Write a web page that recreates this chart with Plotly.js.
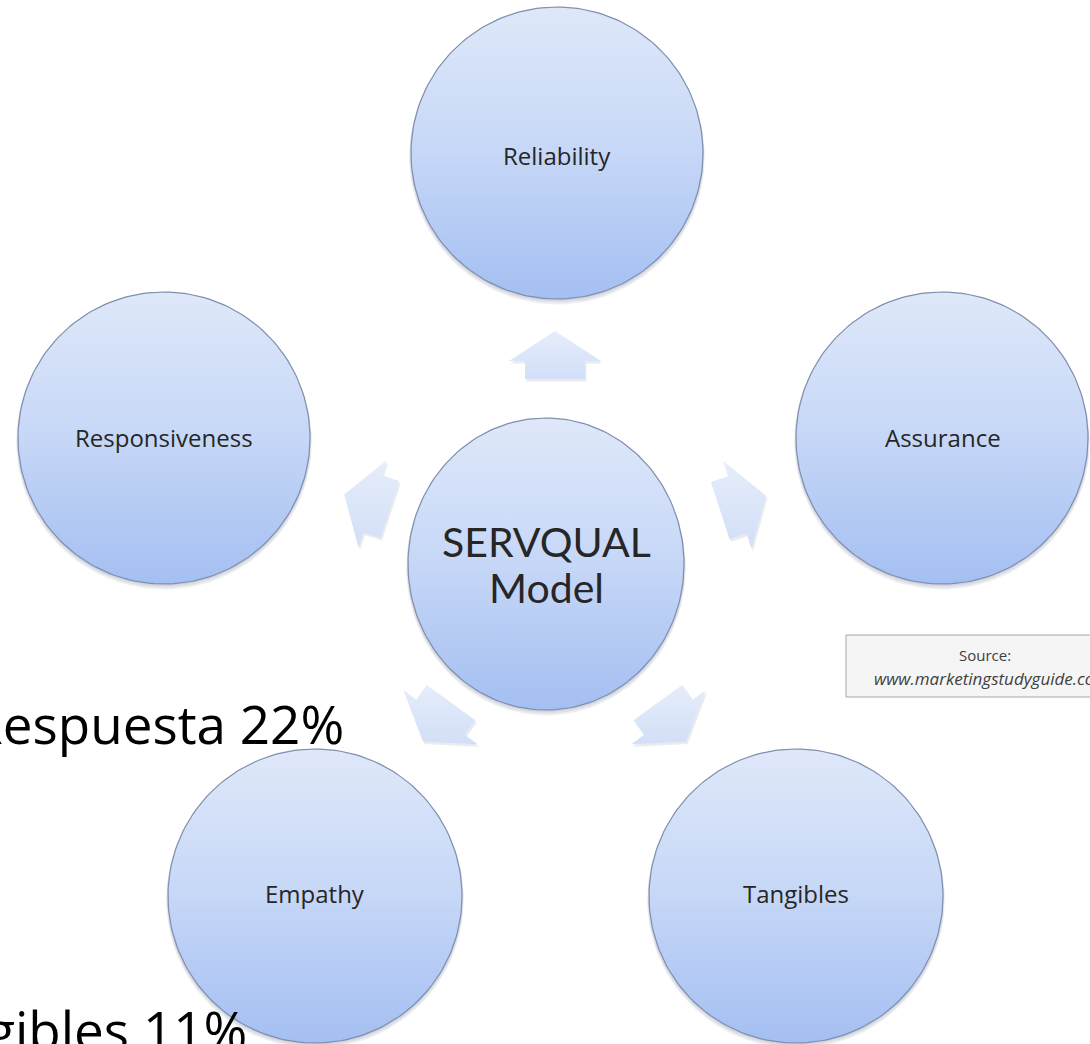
<!DOCTYPE html>
<html>
<head>
<meta charset="utf-8">
<script src="https://cdn.plot.ly/plotly-3.0.1.min.js"></script>
<style>
  html, body { margin: 0; padding: 0; background: #ffffff; }
  #chart { width: 1090px; height: 1044px; }
</style>
</head>
<body>
<div id="chart"></div>
<script>
// ---- content (text) ----
const centerLabel = ['SERVQUAL', 'Model'];
const nodeLabels = ['Reliability', 'Assurance', 'Tangibles', 'Empathy', 'Responsiveness'];
const sideLabels = ['Respuesta 22%', 'Tangibles 11%'];
const sourceLines = ['Source:', 'www.marketingstudyguide.com'];

// ---- layout geometry (pixels) ----
const W = 1090, H = 1044;
const centerNode = { cx: 546, cy: 564, rx: 138, ry: 146 };
const nodePos = [
  { cx: 557, cy: 153, r: 146 },   // Reliability
  { cx: 942, cy: 438, r: 146 },   // Assurance
  { cx: 796, cy: 896, r: 147 },   // Tangibles
  { cx: 315, cy: 896, r: 147 },   // Empathy
  { cx: 164, cy: 438, r: 146 }    // Responsiveness
];
const labelPos = [
  { x: 557, y: 155 }, { x: 943, y: 437 }, { x: 796, y: 893 }, { x: 315, y: 893 }, { x: 164, y: 437 }
];
const arrowPos = [
  { cx: 555, cy: 355, ang: 0 },
  { cx: 743, cy: 503, ang: 72 },
  { cx: 672, cy: 722, ang: 144 },
  { cx: 437, cy: 722, ang: 216 },
  { cx: 367, cy: 502, ang: 288 }
];
const arrowSize = { w: 92, l: 48, head: 30, shaft: 60 };

const circTop = '#dfe8f9', circMid = '#c6d7f7', circBot = '#a4bff2';
const circLine = '#7f8fae';
const arrowTop = '#e6edfb', arrowBot = '#d2dff7';
const fontLabel = '"Open Sans", "Noto Sans", sans-serif';
const fontCenter = 'Lato, "Noto Sans", sans-serif';

function ellipsePts(cx, cy, rx, ry, n) {
  const xs = [], ys = [];
  for (let i = 0; i <= n; i++) {
    const t = 2 * Math.PI * i / n;
    xs.push(cx + rx * Math.cos(t));
    ys.push(cy + ry * Math.sin(t));
  }
  return { xs, ys };
}

function arrowPts(cx, cy, angDeg, s) {
  const L = s.l, Wd = s.w, Hh = s.head, S = s.shaft;
  const local = [
    [0, -L / 2], [Wd / 2, -L / 2 + Hh], [S / 2, -L / 2 + Hh], [S / 2, L / 2],
    [-S / 2, L / 2], [-S / 2, -L / 2 + Hh], [-Wd / 2, -L / 2 + Hh], [0, -L / 2]
  ];
  const a = angDeg * Math.PI / 180, c = Math.cos(a), sn = Math.sin(a);
  const xs = [], ys = [];
  local.forEach(([x, y]) => { xs.push(cx + x * c - y * sn); ys.push(cy + x * sn + y * c); });
  return { xs, ys };
}

const traces = [];

// arrows (shadow + body)
arrowPos.forEach(p => {
  const sh = arrowPts(p.cx + 1.5, p.cy + 2.5, p.ang, arrowSize);
  traces.push({ x: sh.xs, y: sh.ys, mode: 'lines', fill: 'toself', line: { width: 0, color: 'rgba(0,0,0,0)' },
    fillcolor: 'rgba(120,130,150,0.16)', hoverinfo: 'skip', showlegend: false });
  const pts = arrowPts(p.cx, p.cy, p.ang, arrowSize);
  const ymin = Math.min(...pts.ys), ymax = Math.max(...pts.ys);
  traces.push({ x: pts.xs, y: pts.ys, mode: 'lines', fill: 'toself', line: { width: 0, color: 'rgba(0,0,0,0)' },
    fillcolor: arrowTop,
    fillgradient: { type: 'vertical', start: ymin, stop: ymax, colorscale: [[0, arrowTop], [1, arrowBot]] },
    hoverinfo: 'skip', showlegend: false });
});

function addCircle(cx, cy, rx, ry) {
  for (let k = 3; k >= 1; k--) {
    const sh = ellipsePts(cx, cy + k * 1.2, rx + k * 0.6, ry + k * 0.6, 120);
    traces.push({ x: sh.xs, y: sh.ys, mode: 'lines', fill: 'toself', line: { width: 0, color: 'rgba(0,0,0,0)' },
      fillcolor: 'rgba(90,100,130,0.10)', hoverinfo: 'skip', showlegend: false });
  }
  const pts = ellipsePts(cx, cy, rx, ry, 180);
  traces.push({ x: pts.xs, y: pts.ys, mode: 'lines', fill: 'toself',
    line: { width: 1.2, color: circLine },
    fillcolor: circMid,
    fillgradient: { type: 'vertical', start: cy - ry, stop: cy + ry,
      colorscale: [[0, circTop], [0.5, circMid], [1, circBot]] },
    hoverinfo: 'skip', showlegend: false });
}

nodePos.forEach(p => addCircle(p.cx, p.cy, p.r, p.r));
addCircle(centerNode.cx, centerNode.cy, centerNode.rx, centerNode.ry);

const annotations = [];
nodeLabels.forEach((t, i) => {
  annotations.push({ x: labelPos[i].x, y: labelPos[i].y, xref: 'x', yref: 'y', text: t, showarrow: false,
    xanchor: 'center', yanchor: 'middle', font: { family: fontLabel, size: 24, color: '#262626' } });
});
annotations.push({ x: centerNode.cx, y: 541, xref: 'x', yref: 'y', text: centerLabel[0], showarrow: false,
  xanchor: 'center', yanchor: 'middle', borderpad: 0, font: { family: fontCenter, size: 41, color: '#262626' } });
annotations.push({ x: centerNode.cx, y: 587, xref: 'x', yref: 'y', text: centerLabel[1], showarrow: false,
  xanchor: 'center', yanchor: 'middle', borderpad: 0, font: { family: fontCenter, size: 41, color: '#262626' } });

// side texts (partly cut by the page edge, as in the reference)
annotations.push({ x: 346, y: 723, xref: 'x', yref: 'y', text: sideLabels[0], showarrow: false,
  xanchor: 'right', yanchor: 'middle', font: { family: fontLabel, size: 53, color: '#000000' } });
annotations.push({ x: 249, y: 1029, xref: 'x', yref: 'y', text: sideLabels[1], showarrow: false,
  xanchor: 'right', yanchor: 'middle', font: { family: fontLabel, size: 53, color: '#000000' } });

// source box text
annotations.push({ x: 985, y: 655, xref: 'x', yref: 'y', text: sourceLines[0], showarrow: false,
  xanchor: 'center', yanchor: 'middle', font: { family: fontLabel, size: 15, color: '#404040' } });
annotations.push({ x: 872, y: 678, xref: 'x', yref: 'y', text: '<i>' + sourceLines[1] + '</i>', showarrow: false,
  xanchor: 'left', yanchor: 'middle', font: { family: fontLabel, size: 17, color: '#404040' } });

const shapes = [
  { type: 'rect', xref: 'x', yref: 'y', x0: 846, x1: 1130, y0: 635, y1: 697,
    fillcolor: '#f5f5f5', line: { color: '#a6a6a6', width: 1 }, layer: 'above' }
];

const layout = {
  width: W, height: H,
  margin: { l: 0, r: 0, t: 0, b: 0 },
  paper_bgcolor: '#ffffff', plot_bgcolor: '#ffffff',
  xaxis: { range: [0, W], visible: false, fixedrange: true },
  yaxis: { range: [H, 0], visible: false, fixedrange: true },
  showlegend: false,
  shapes: shapes,
  annotations: annotations
};

Plotly.newPlot('chart', traces, layout, { staticPlot: true, displayModeBar: false });
</script>
</body>
</html>
